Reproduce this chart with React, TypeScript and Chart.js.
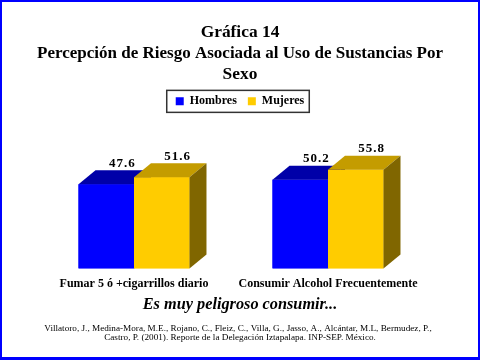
import React, { useEffect, useRef } from 'react';
import { Chart, registerables } from 'chart.js';

Chart.register(...registerables);

const categories = ['Fumar 5 ó +cigarrillos diario', 'Consumir Alcohol Frecuentemente'];
const seriesNames = ['Hombres', 'Mujeres'];
const hombres = [47.6, 50.2];
const mujeres = [51.6, 55.8];
const titleLines = ['Gráfica 14', 'Percepción de Riesgo Asociada al Uso de Sustancias Por', 'Sexo'];
const subtitleText = 'Es muy peligroso consumir...';
const citationLines = [
  'Villatoro, J., Medina-Mora, M.E., Rojano, C., Fleiz, C., Villa, G., Jasso, A., Alcántar, M.L, Bermudez, P.,',
  'Castro, P. (2001). Reporte de la Delegación Iztapalapa. INP-SEP. México.',
];

const SERIF = "'Liberation Serif', 'Times New Roman', serif";
const frontColors = ['#0000FF', '#FFCC00'];
const topColors = ['#0000A8', '#C49C00'];
const sideColors = ['#00007A', '#806600'];
const DX = 17;
const DY = 14;

const bar3d = {
  id: 'bar3d',
  beforeDraw(chart: any) {
    const ctx = chart.ctx;
    ctx.save();
    ctx.fillStyle = '#FFFFFF';
    ctx.fillRect(0, 0, chart.width, chart.height);
    ctx.restore();
  },
  afterDatasetsDraw(chart: any) {
    const ctx = chart.ctx;
    const n = chart.data.labels.length;
    const metas = chart.data.datasets.map((_: any, i: number) => chart.getDatasetMeta(i));
    for (let j = 0; j < n; j++) {
      metas.forEach((meta: any, d: number) => {
        const el = meta.data[j];
        const { x, y, base, width } = el.getProps(['x', 'y', 'base', 'width'], true);
        const l = x - width / 2;
        const r = x + width / 2;
        ctx.save();
        ctx.fillStyle = frontColors[d];
        ctx.fillRect(l, y, width, base - y);
        ctx.fillStyle = topColors[d];
        ctx.beginPath();
        ctx.moveTo(l, y);
        ctx.lineTo(l + DX, y - DY);
        ctx.lineTo(r + DX, y - DY);
        ctx.lineTo(r, y);
        ctx.closePath();
        ctx.fill();
        ctx.fillStyle = sideColors[d];
        ctx.beginPath();
        ctx.moveTo(r, y);
        ctx.lineTo(r + DX, y - DY);
        ctx.lineTo(r + DX, base - DY);
        ctx.lineTo(r, base);
        ctx.closePath();
        ctx.fill();
        ctx.restore();
      });
    }
    ctx.save();
    ctx.fillStyle = '#000';
    ctx.font = `bold 13px ${SERIF}`;
    ctx.textAlign = 'center';
    ctx.textBaseline = 'middle';
    (ctx as any).letterSpacing = '1px';
    metas.forEach((meta: any, d: number) => {
      meta.data.forEach((el: any, j: number) => {
        const { x, y } = el.getProps(['x', 'y'], true);
        const v = chart.data.datasets[d].data[j];
        ctx.fillText(Number(v).toFixed(1), x + DX - 1, y - DY - 7);
      });
    });
    ctx.restore();
  },
  afterDraw(chart: any) {
    const ctx = chart.ctx;
    ctx.save();
    const boxes = chart.legend && chart.legend.legendHitBoxes;
    if (boxes && boxes.length) {
      const left = Math.min(...boxes.map((b: any) => b.left));
      const right = Math.max(...boxes.map((b: any) => b.left + b.width));
      const cy = boxes[0].top + boxes[0].height / 2;
      ctx.strokeStyle = '#333';
      ctx.lineWidth = 1.5;
      ctx.strokeRect(left - 9, cy - 11, right - left + 14, 22);
    }
    ctx.fillStyle = '#000';
    ctx.font = `9.2px ${SERIF}`;
    ctx.textAlign = 'center';
    ctx.textBaseline = 'middle';
    citationLines.forEach((line, i) => ctx.fillText(line, i === 0 ? 238 : 240, 328.5 + i * 9.5));
    ctx.fillStyle = '#0000FF';
    ctx.fillRect(0, 0, chart.width, 2);
    ctx.fillRect(0, 0, 2, chart.height);
    ctx.fillRect(chart.width - 2, 0, 2, chart.height);
    ctx.fillRect(0, chart.height - 3, chart.width, 3);
    ctx.restore();
  },
};

export default function App() {
  const ref = useRef<HTMLCanvasElement | null>(null);
  useEffect(() => {
    if (!ref.current) return;
    const chart = new Chart(ref.current, {
      type: 'bar',
      data: {
        labels: categories,
        datasets: [
          { label: seriesNames[0], data: hombres, backgroundColor: frontColors[0], borderWidth: 0, barPercentage: 1, categoryPercentage: 0.572 },
          { label: seriesNames[1], data: mujeres, backgroundColor: frontColors[1], borderWidth: 0, barPercentage: 1, categoryPercentage: 0.572 },
        ],
      },
      options: {
        animation: false,
        responsive: false,
        layout: { padding: { top: 2, left: 37, right: 37, bottom: 51 } },
        plugins: {
          title: {
            display: true,
            text: titleLines,
            color: '#000',
            font: { family: SERIF, size: 17.4, weight: 'bold', lineHeight: 1.185 },
            padding: { top: 20.5, bottom: 0 },
          },
          subtitle: {
            display: true,
            position: 'bottom',
            text: subtitleText,
            color: '#000',
            font: { family: SERIF, size: 16.3, weight: 'bold', style: 'italic', lineHeight: 0.5 },
            padding: { top: 2, bottom: 0 },
          },
          legend: {
            labels: {
              boxWidth: 8,
              boxHeight: 8,
              color: '#000',
              font: { family: SERIF, size: 12, weight: 'bold' },
              padding: 11,
            },
          },
          tooltip: { enabled: false },
        },
        scales: {
          x: {
            grid: { display: false, drawTicks: false },
            border: { display: false },
            ticks: { color: '#000', font: { family: SERIF, size: 12, weight: 'bold' }, padding: 8 },
          },
          y: {
            position: 'right',
            min: 0,
            max: 85.4,
            grid: { display: false, drawTicks: false },
            border: { display: false },
            ticks: { display: false },
            afterFit: (s: any) => { s.width = 18; },
          },
        },
      },
      plugins: [bar3d],
    } as any);
    return () => chart.destroy();
  }, []);
  return (
    <div style={{ position: 'absolute', left: 0, top: 0, width: 480, height: 360 }}>
      <canvas ref={ref} width={480} height={360} style={{ display: 'block' }} />
    </div>
  );
}
